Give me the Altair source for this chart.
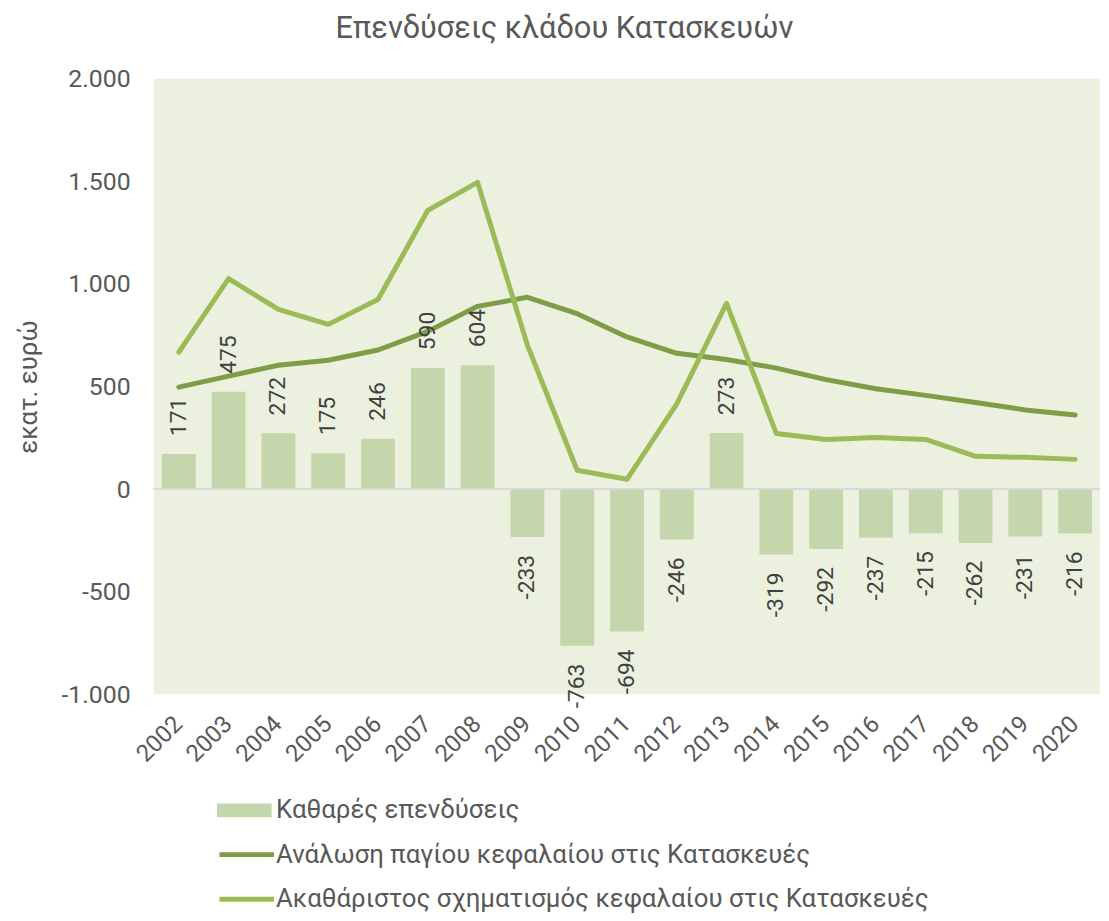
import altair as alt
import pandas as pd

years = [str(y) for y in range(2002, 2021)]
net_investment = [171, 475, 272, 175, 246, 590, 604, -233, -763, -694, -246, 273,
                  -319, -292, -237, -215, -262, -231, -216]
depreciation = [497, 551, 604, 628, 678, 769, 891, 935, 855, 742, 662, 632,
                590, 534, 489, 457, 422, 386, 361]
gross_capital = [668, 1026, 876, 803, 924, 1359, 1495, 702, 92, 48, 416, 905,
                 271, 242, 252, 242, 160, 155, 145]

bar_name = "Καθαρές επενδύσεις"
dep_name = "Ανάλωση παγίου κεφαλαίου στις Κατασκευές"
gross_name = "Ακαθάριστος σχηματισμός κεφαλαίου στις Κατασκευές"

FONT = "Roboto"
TXT = "#595959"

bars_df = pd.DataFrame({"year": years, "value": net_investment, "series": bar_name})
lines_df = pd.concat([
    pd.DataFrame({"year": years, "value": depreciation, "series": dep_name}),
    pd.DataFrame({"year": years, "value": gross_capital, "series": gross_name}),
])

x_enc = alt.X("year:N", sort=years,
              scale=alt.Scale(paddingInner=0.32, paddingOuter=0.16),
              axis=alt.Axis(title=None, labelAngle=-45, labelAlign="right",
                            labelBaseline="middle", labelFontSize=24,
                            labelColor=TXT, labelFont=FONT, ticks=False,
                            domain=False, labelPadding=26, labelOffset=0))
y_scale = alt.Scale(domain=[-1000, 2000], nice=False)
y_axis = alt.Axis(title="εκατ. ευρώ", titleFontSize=26, titleFont=FONT,
                  titleFontWeight="normal", titleColor=TXT, titlePadding=20,
                  values=[-1000, -500, 0, 500, 1000, 1500, 2000],
                  labelExpr="replace(replace(format(datum.value, ','), ',', '.'), '\u2212', '-')",
                  labelFontSize=25, labelFont=FONT, labelColor=TXT,
                  labelPadding=24, ticks=False, domain=False, grid=False)

bars = alt.Chart(bars_df).mark_bar(color="#C5D6AC").encode(
    x=x_enc,
    y=alt.Y("value:Q", scale=y_scale, axis=y_axis),
    fill=alt.Fill("series:N",
                  scale=alt.Scale(domain=[bar_name], range=["#C5D6AC"]),
                  legend=alt.Legend(title=None, orient="none", legendX=77, legendY=723,
                                    symbolType="M-2,-0.5H2V0.5H-2Z", symbolSize=756,
                                    symbolStrokeWidth=0, labelFontSize=26,
                                    labelFont=FONT, labelColor=TXT, labelOffset=18,
                                    labelLimit=1000)),
)

zero = alt.Chart(bars_df).mark_rule(color="#D9D9D9", strokeWidth=2).encode(
    y=alt.datum(0)
)

lines = alt.Chart(lines_df).mark_line(strokeWidth=5, strokeCap="round",
                                      strokeJoin="round").encode(
    x=alt.X("year:N", sort=years),
    y=alt.Y("value:Q", scale=y_scale),
    stroke=alt.Stroke("series:N",
                      scale=alt.Scale(domain=[dep_name, gross_name],
                                      range=["#7F9D47", "#9BBB59"]),
                      legend=alt.Legend(title=None, orient="none", legendX=77, legendY=765,
                                        symbolType="M-2,0H2", symbolSize=756,
                                        symbolStrokeWidth=5, labelFontSize=26,
                                        labelFont=FONT, labelColor=TXT, labelOffset=13,
                                        rowPadding=15, labelLimit=1000)),
    detail="series:N",
)

pos_labels = alt.Chart(bars_df).transform_filter("datum.value >= 0").transform_calculate(
    label="toString(datum.value)").mark_text(
    angle=270, align="left", baseline="middle", dx=18, fontSize=23, font=FONT,
    color="#404040").encode(
    x=alt.X("year:N", sort=years), y=alt.Y("value:Q", scale=y_scale),
    text="label:N")

neg_labels = alt.Chart(bars_df).transform_filter("datum.value < 0").transform_calculate(
    label="toString(datum.value)").mark_text(
    angle=270, align="right", baseline="middle", dx=-18, fontSize=23, font=FONT,
    color="#404040").encode(
    x=alt.X("year:N", sort=years), y=alt.Y("value:Q", scale=y_scale),
    text="label:N")

chart = alt.layer(bars, zero, lines, pos_labels, neg_labels).properties(
    width=953, height=620,
    title=alt.Title("Επενδύσεις κλάδου Κατασκευών", fontSize=31, font=FONT,
                    fontWeight="normal", color=TXT, anchor="middle", offset=22,
                    dx=-63),
    autosize=alt.AutoSizeParams(type="none"),
    padding={"left": 147, "top": 68, "right": 1, "bottom": 217},
    background="white",
).configure_view(fill="#EBF1DE", stroke=None)

chart.save("out.html", embed_options={"renderer": "svg", "actions": False})
